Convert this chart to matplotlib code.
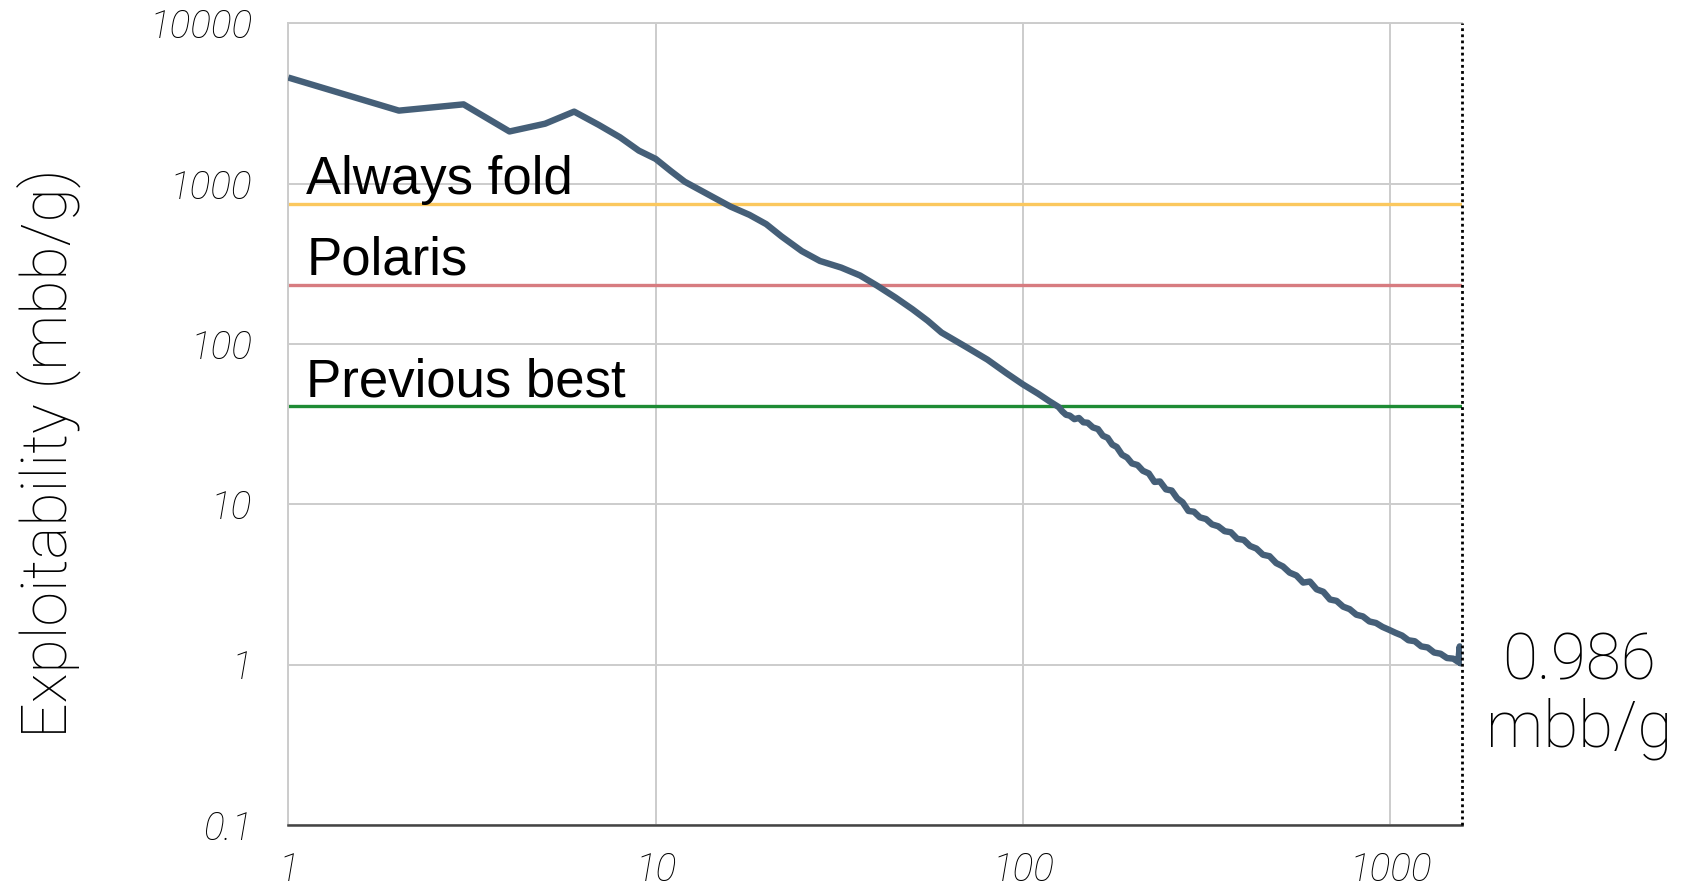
import matplotlib
matplotlib.use("Agg")
import matplotlib.pyplot as plt

# ---------------- data ----------------
x_vals = [1, 2, 3, 4, 5, 6, 7, 8, 9, 10, 11, 12, 14, 16, 18, 20, 22, 25, 28, 32, 36,
          40, 45, 50, 55, 60, 70, 80, 90, 100, 110, 118,
          125, 128, 131, 134, 138, 142, 146, 150, 155, 160, 165, 170, 175, 180, 186,
          192, 198, 205, 212, 220, 228, 236, 245, 254, 263, 272, 282, 292, 303, 315,
          327, 340, 354, 368, 383, 399, 415, 432, 450, 469, 489, 510, 532, 555, 579,
          604, 630, 657, 685, 714, 744, 775, 808, 842, 877, 914, 952, 992, 1033, 1076,
          1120, 1166, 1214, 1264, 1316, 1370, 1426, 1484, 1530, 1545, 1552, 1560, 1565]
y_vals = [4600, 2860, 3130, 2120, 2370, 2820, 2330, 1950, 1610, 1430, 1200, 1030, 850,
          720, 640, 560, 470, 380, 330, 300, 268,
          232, 195, 165, 140, 118, 96, 80, 66, 56, 49, 44,
          40.5, 38.0, 36.2, 35.8, 34.0, 34.6, 32.5, 32.3, 30.2, 29.5, 26.8, 26.0, 23.6,
          22.8, 20.4, 19.6, 18.0, 17.6, 16.2, 15.6, 13.8, 13.9, 12.4, 12.2, 10.9, 10.3,
          9.1, 9.0, 8.3, 8.1, 7.5, 7.3, 6.8, 6.7, 6.1, 6.0, 5.5, 5.3, 4.85, 4.75, 4.3,
          4.1, 3.75, 3.6, 3.25, 3.3, 2.95, 2.85, 2.55, 2.5, 2.3, 2.22, 2.05, 2.0, 1.86,
          1.82, 1.72, 1.65, 1.58, 1.52, 1.42, 1.40, 1.30, 1.28, 1.19, 1.17, 1.10, 1.09,
          1.04, 1.30, 1.02, 1.12, 0.986]

ref_names = ["Always fold", "Polaris", "Previous best"]
ref_values = [750, 235, 41]
ref_colors = ["#FBC85E", "#D77C80", "#1E8B34"]

x_ticks = [1, 10, 100, 1000]
x_ticklabels = ["1", "10", "100", "1000"]
y_ticks = [0.1, 1, 10, 100, 1000, 10000]
y_ticklabels = ["0.1", "1", "10", "100", "1000", "10000"]

final_label = "0.986\nmbb/g"
y_label = "Exploitability (mbb/g)"

x_max = 1565

# ---------------- plot ----------------
fig = plt.figure(figsize=(16.87, 8.93), dpi=100)
ax = fig.add_axes([0.1709, 0.0762, 0.6956, 0.8975])
ax.set_xscale("log")
ax.set_yscale("log")
ax.set_xlim(1, x_max)
ax.set_ylim(0.1, 10000)
ax.minorticks_off()

ax.grid(True, which="major", color="#cccccc", lw=1.4, zorder=0)
ax.set_axisbelow(True)

for name, val, col in zip(ref_names, ref_values, ref_colors):
    ax.axhline(val, color=col, lw=2.4, zorder=2)
    ax.annotate(name, xy=(1, val), xytext=(13, 7), textcoords="offset points",
                ha="left", va="baseline", fontsize=38,
                family=["Liberation Sans", "DejaVu Sans"], color="black", zorder=4)

ax.plot(x_vals, y_vals, color="#455F78", lw=4.6, solid_joinstyle="round",
        solid_capstyle="butt", zorder=3)

tick_font = dict(family=["Roboto", "DejaVu Sans"], weight="light", style="italic",
                 size=28, color="black")
ax.set_xticks(x_ticks)
ax.set_xticklabels(x_ticklabels, fontdict=tick_font)
ax.set_yticks(y_ticks)
ax.set_yticklabels(y_ticklabels, fontdict=tick_font)
ax.tick_params(axis="both", length=0)
ax.tick_params(axis="x", pad=19)
ax.tick_params(axis="y", pad=26)

for s in ["left", "top"]:
    ax.spines[s].set_color("#cccccc")
    ax.spines[s].set_linewidth(1.4)
ax.spines["bottom"].set_color("#444444")
ax.spines["bottom"].set_linewidth(1.8)
ax.spines["right"].set_visible(False)
ax.axvline(x_max, color="black", lw=2.0, linestyle=(0, (1, 1.2)),
           dash_capstyle="butt", clip_on=False, zorder=5)

fig.text(0.0286, 0.492, y_label, rotation=90, ha="center", va="center",
         fontsize=45, family=["Roboto", "DejaVu Sans"], weight="light", color="black")

fig.text(0.936, 0.221, final_label, ha="center", va="center", fontsize=46,
         family=["Roboto", "DejaVu Sans"], weight="light", color="black",
         linespacing=1.1)

fig.savefig("out.png", dpi=100)
